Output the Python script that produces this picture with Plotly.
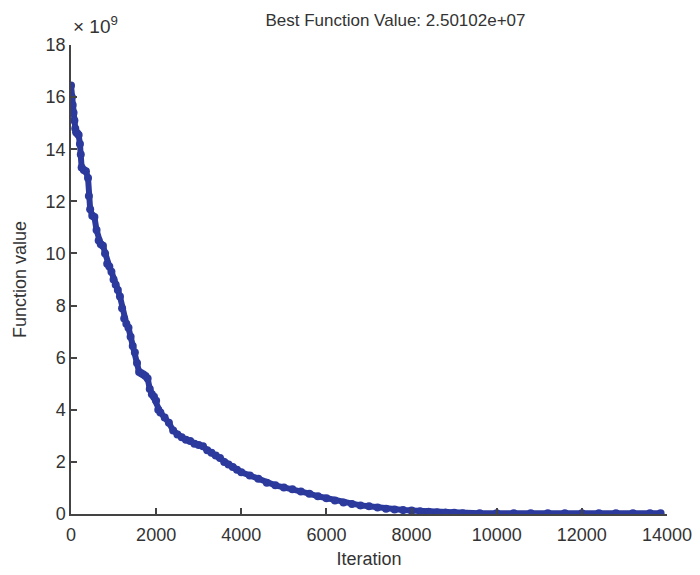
import plotly.graph_objects as go

# Iteration numbers and best function values (in units of 1e9)
iterations = [0, 20, 40, 60, 80, 100, 120, 150, 180, 210, 230, 250, 300, 350, 400, 420, 450, 500, 550,
              600, 650, 700, 750, 800, 850, 900, 950, 1000, 1050, 1100, 1150, 1200, 1250, 1300, 1350,
              1400, 1450, 1500, 1550, 1600, 1650, 1700, 1750, 1800, 1850, 1900, 1950, 2000, 2050, 2100,
              2200, 2300, 2400, 2500, 2600, 2700, 2800, 2900, 3000, 3100, 3200, 3300, 3400, 3500, 3600,
              3700, 3800, 3900, 4000, 4200, 4400, 4600, 4800, 5000, 5200, 5400, 5600, 5800, 6000, 6200,
              6400, 6600, 6800, 7000, 7200, 7400, 7600, 7800, 8000, 8200, 8400, 8600, 8800, 9000, 9200,
              9600, 10000, 10400, 10800, 11200, 11600, 12000, 12400, 12800, 13200, 13600, 13850]
values_e9 = [16.45, 16.0, 15.7, 15.4, 15.1, 14.8, 14.65, 14.6, 14.55, 14.2, 13.8, 13.3, 13.2, 13.15, 12.9,
             12.2, 11.7, 11.45, 11.4, 10.9, 10.5, 10.35, 10.3, 10.0, 9.6, 9.5, 9.3, 9.0, 8.8, 8.6, 8.35,
             7.9, 7.5, 7.3, 7.15, 6.8, 6.45, 6.2, 5.8, 5.45, 5.4, 5.35, 5.3, 5.2, 4.8, 4.6, 4.5, 4.35,
             4.0, 3.9, 3.7, 3.5, 3.2, 3.05, 2.95, 2.85, 2.8, 2.7, 2.65, 2.6, 2.45, 2.35, 2.25, 2.15, 2.0,
             1.9, 1.8, 1.7, 1.6, 1.48, 1.35, 1.2, 1.1, 1.02, 0.95, 0.86, 0.78, 0.68, 0.6, 0.52, 0.44,
             0.38, 0.33, 0.3, 0.25, 0.2, 0.17, 0.15, 0.13, 0.11, 0.09, 0.07, 0.06, 0.05, 0.03,
             0.025, 0.025, 0.025, 0.025, 0.025, 0.025, 0.025, 0.025, 0.025, 0.025, 0.025, 0.025]

x_ticks = [0, 2000, 4000, 6000, 8000, 10000, 12000, 14000]
y_ticks = [0, 2, 4, 6, 8, 10, 12, 14, 16, 18]

blue = "#2B3A9C"
txt = "#333333"
font = "Liberation Sans, Arial, sans-serif"

fig = go.Figure()
fig.add_trace(go.Scatter(
    x=iterations, y=values_e9, mode="lines+markers",
    line=dict(color=blue, width=6),
    marker=dict(color=blue, size=8, symbol="circle"),
    showlegend=False,
))

axis_common = dict(
    showline=True, linecolor="#444444", linewidth=1.5,
    ticks="inside", ticklen=6, tickcolor="#444444", tickwidth=1.5,
    showgrid=False, zeroline=False, mirror=False, automargin=False,
    tickfont=dict(family=font, size=18, color=txt),
)

fig.update_layout(
    width=700, height=575,
    margin=dict(l=71, r=33, t=45, b=61),
    paper_bgcolor="white", plot_bgcolor="white",
    title=dict(text="Best Function Value: 2.50102e+07", x=0.565, xanchor="center",
               y=0.966, yanchor="middle", font=dict(family=font, size=17, color=txt)),
    xaxis=dict(range=[0, 14000], tickvals=x_ticks, ticktext=[str(v) for v in x_ticks],
               ticklabelstandoff=4,
               title=dict(text="Iteration", font=dict(family=font, size=18, color=txt), standoff=8),
               **axis_common),
    yaxis=dict(range=[0, 18], tickvals=y_ticks, ticktext=[str(v) for v in y_ticks],
               title=dict(text="Function value", font=dict(family=font, size=18, color=txt), standoff=14),
               **axis_common),
)

fig.add_annotation(
    text="× 10<sup>9</sup>", xref="paper", yref="paper", x=0.0, y=1.0,
    xanchor="left", yanchor="bottom", showarrow=False, yshift=6,
    font=dict(family=font, size=19, color=txt),
)

fig.write_html("out.html")
